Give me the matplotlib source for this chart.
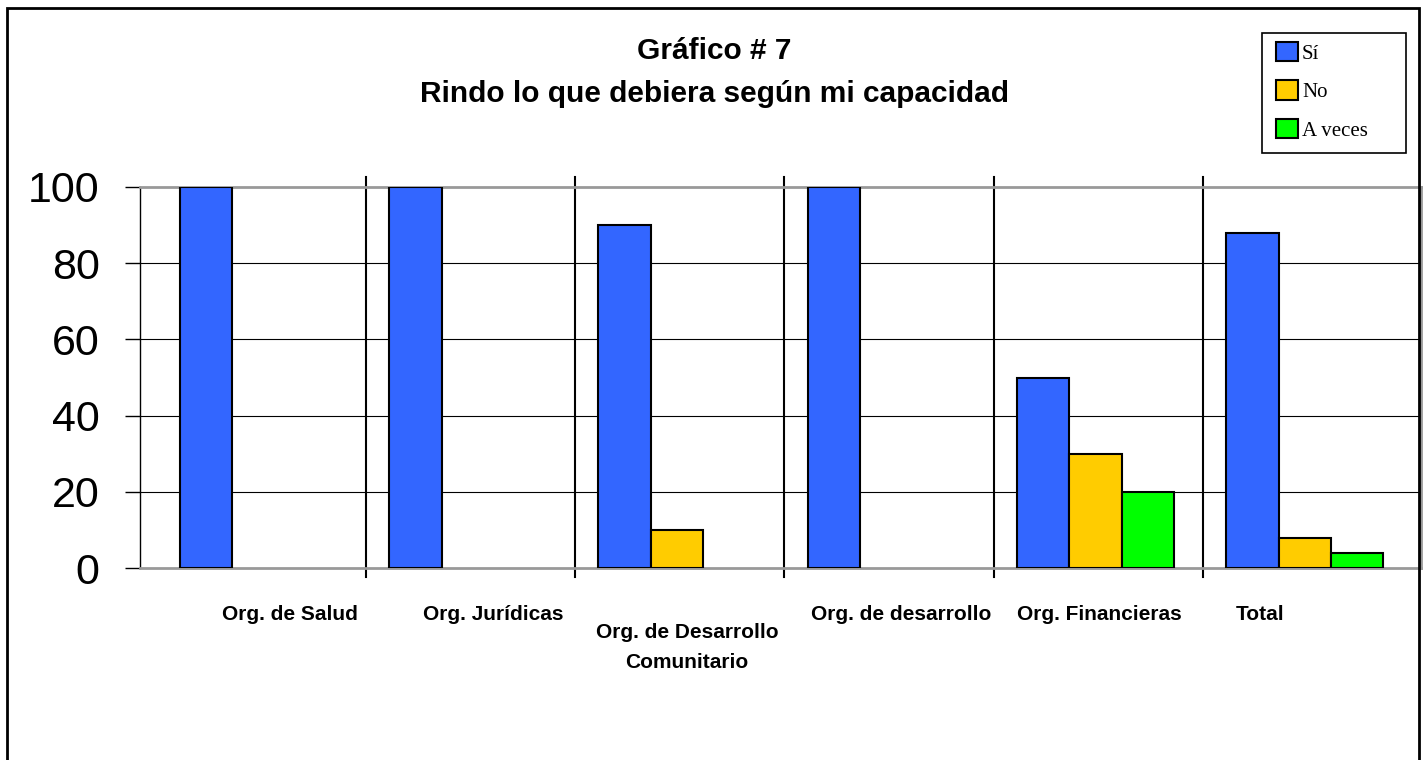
import matplotlib.pyplot as plt
from matplotlib.patches import Patch, Rectangle
import numpy as np

# data
categories = ["Org. de Salud", "Org. Jurídicas", "Org. de Desarrollo\nComunitario",
              "Org. de desarrollo", "Org. Financieras", "Total"]
series_names = ["Sí", "No", "A veces"]
si_vals = [100, 100, 90, 100, 50, 88]
no_vals = [0, 0, 10, 0, 30, 8]
aveces_vals = [0, 0, 0, 0, 20, 4]
y_ticks = [0, 20, 40, 60, 80, 100]

colors = ["#3366FF", "#FFCC00", "#00FF00"]
# label placement tweaks (Excel put them a bit off-center)
lab_dx = [0.137, 0.109, 0.034, 0.059, 0.005, -0.228]
lab_top = [-0.097, -0.097, -0.145, -0.097, -0.097, -0.097]

plt.rcParams['font.family'] = ['Liberation Sans', 'DejaVu Sans']

fig = plt.figure(figsize=(14.25, 7.6), dpi=100)
ax = fig.add_axes([140 / 1425, 192 / 760, 1281 / 1425, 381 / 760])

x = np.arange(len(categories))
w = 0.25
for k, vals in enumerate([si_vals, no_vals, aveces_vals]):
    lw = [1.5 if v > 0 else 0 for v in vals]
    ax.bar(x + (k - 1) * w - 0.014, vals, width=w, color=colors[k], edgecolor="black",
           linewidth=lw, zorder=3)

ax.set_xlim(-0.58, 5.542)
ax.set_ylim(0, 100)
ax.set_yticks(y_ticks)
ax.set_yticklabels([str(t) for t in y_ticks], fontsize=31)
ax.tick_params(axis="y", length=11, width=1, pad=18, direction="out")
ax.set_xticks([])

for t in y_ticks[1:-1]:
    ax.axhline(t, color="black", lw=0.8, zorder=1)

for s in ["top", "bottom", "right"]:
    ax.spines[s].set_color("#999999")
    ax.spines[s].set_linewidth(2)
ax.spines["left"].set_color("black")
ax.spines["left"].set_linewidth(1)

# category separators
for i in range(len(categories) - 1):
    ax.axvline(i + 0.5, ymin=-0.024, ymax=1.026, color="black", lw=1.5,
               clip_on=False, zorder=2)

for i, lab in enumerate(categories):
    ax.text(i + lab_dx[i], lab_top[i], lab, transform=ax.get_xaxis_transform(),
            ha="center", va="top", fontsize=15, fontweight="bold", linespacing=1.75)

fig.text(714 / 1425, 1 - 51 / 760, "Gráfico # 7", ha="center", va="center",
         fontsize=21.5, fontweight="bold")
fig.text(714 / 1425, 1 - 94 / 760, "Rindo lo que debiera según mi capacidad",
         ha="center", va="center", fontsize=21.5, fontweight="bold")

# legend: entries without frame, frame drawn as a box like Excel
handles = [Patch(facecolor=c, edgecolor="black", linewidth=1.5) for c in colors]
leg = fig.legend(handles, series_names, loc="upper left",
                 bbox_to_anchor=(1276 / 1425, 1 - 42 / 760),
                 prop={"family": "Liberation Serif", "size": 15},
                 handlelength=1.05, handleheight=1.05, handletextpad=0.2,
                 labelspacing=0.8, borderpad=0, borderaxespad=0,
                 frameon=False)
fig.patches.append(Rectangle((1262 / 1425, 1 - 153 / 760), 144 / 1425, 120 / 760,
                             transform=fig.transFigure, fill=False,
                             edgecolor="black", lw=1.2))

# outer chart border (bottom runs off the image)
fig.patches.append(Rectangle((7 / 1425, -0.05), 1412 / 1425, 1.05 - 8 / 760,
                             transform=fig.transFigure, fill=False,
                             edgecolor="black", lw=2))

fig.savefig("out.png", dpi=100)
